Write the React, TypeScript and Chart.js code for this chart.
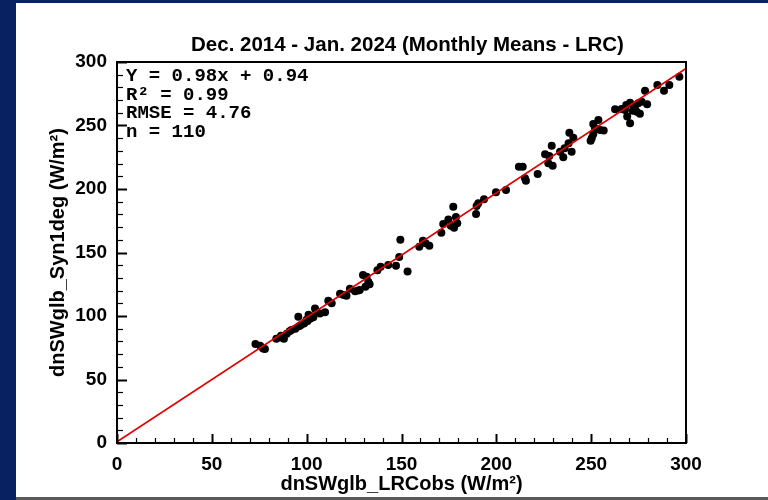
import React, { useEffect, useRef } from "react";
import { Chart, registerables } from "chart.js";

Chart.register(...registerables);

// Observed (x) and Syn1deg (y) monthly means, W/m^2
const obsX = [
  73, 75.5, 77, 78, 84, 86, 86.5, 88, 89.5, 91,
  92, 94, 95.6, 96, 97, 98.6, 99.5, 100, 100.5, 101,
  102, 103.5, 104.4, 105, 107, 109.7, 111.4, 113.2, 117.6, 119.5,
  121, 122.8, 125.5, 127.2, 128, 129.7, 131.6, 131, 133.2, 132.5,
  137.3, 139, 143, 147.1, 148.8, 149.4, 153.2, 159.4, 161.3, 162.7,
  164.7, 171, 172, 174.7, 176, 177.3, 177.7, 178.7, 179.4, 189.3,
  189.6, 190.5, 193.5, 199.8, 205.1, 211.9, 213.9, 215.1, 215.6, 221.8,
  225.7, 227.9, 227.4, 229.7, 229.2, 233.6, 235.3, 236, 238.1, 238.5,
  239.7, 240.6, 249.7, 250.3, 251.1, 251.1, 252, 253.8, 254.7, 256.6,
  262.6, 266, 267.8, 268.5, 269, 270.5, 270.5, 271.9, 272.6, 273.1,
  274, 274.8, 275.7, 276.6, 278.4, 279.5, 284.9, 288.4, 291.2, 296.5,
];
const synY = [
  78, 76.5, 74.5, 74, 82, 83, 84.5, 82, 86, 88,
  89, 90, 99.5, 92, 93, 94, 95.5, 97, 96, 101,
  98, 99, 106, 104, 102, 103, 112, 110, 117.5, 116.5,
  116, 121.5, 119.5, 120, 120.5, 132.3, 131, 123, 125, 127,
  136, 138.8, 140.2, 139.5, 146.5, 160, 135, 154.6, 159.3, 157.2,
  155.4, 165.6, 172.4, 176, 171, 186, 169.5, 178, 173, 180.3,
  186.6, 188.7, 192, 197.4, 199.2, 217.6, 217.6, 208.4, 206.5, 211.8,
  227.3, 226, 220.2, 218.4, 234, 229.4, 225, 232, 236, 244.3,
  229.4, 240.4, 238, 240, 243.1, 251.2, 248, 254.3, 246.5, 246,
  262.8, 263, 262.2, 266.1, 257, 251.7, 267.9, 261.7, 264.3, 265,
  260.9, 267.5, 259.3, 268.7, 277.4, 266.8, 281.9, 277.4, 281.9, 288.4,
];

// Regression line end points (Y = 0.98x + 0.94)
const fitX = [0, 300];
const fitY = [0.94, 294.94];

const axisMin = 0;
const axisMax = 300;
const majorStep = 50;
const minorStep = 10;

const titleText = "Dec. 2014 - Jan. 2024 (Monthly Means - LRC)";
const xTitle = "dnSWglb_LRCobs (W/m\u00B2)";
const yTitle = "dnSWglb_Syn1deg (W/m\u00B2)";
const statsLines = ["Y = 0.98x + 0.94", "R\u00B2 = 0.99", "RMSE = 4.76", "n = 110"];

const SANS = "'Liberation Sans', Arial, Helvetica, sans-serif";
const MONO = "'Liberation Mono', 'Courier New', monospace";

const decorPlugin = {
  id: "decor",
  afterDatasetsDraw(chart: any) {
    const { ctx, chartArea: a, scales } = chart;
    const xs = scales.x;
    const ys = scales.y;
    ctx.save();
    ctx.strokeStyle = "#000";
    // inward ticks
    for (let v = axisMin; v <= axisMax; v += minorStep) {
      const major = v % majorStep === 0;
      ctx.lineWidth = major ? 2 : 1.2;
      const len = major ? 10 : 6;
      const px = Math.round(xs.getPixelForValue(v)) + 0.5;
      ctx.beginPath();
      ctx.moveTo(px, a.bottom);
      ctx.lineTo(px, a.bottom - (major ? 9 : 5));
      ctx.stroke();
      const py = Math.round(ys.getPixelForValue(v)) + 0.5;
      ctx.beginPath();
      ctx.moveTo(a.left, py);
      ctx.lineTo(a.left + len, py);
      ctx.stroke();
    }
    // frame
    ctx.lineWidth = 2;
    ctx.strokeRect(a.left, a.top, a.right - a.left, a.bottom - a.top);
    // title
    ctx.fillStyle = "#000";
    ctx.font = `bold 20.5px ${SANS}`;
    ctx.textAlign = "center";
    ctx.textBaseline = "middle";
    ctx.fillText(titleText, (a.left + a.right) / 2 + 6, a.top - 17);
    // stats text
    ctx.font = `bold 19px ${MONO}`;
    ctx.textAlign = "left";
    ctx.textBaseline = "alphabetic";
    statsLines.forEach((t, i) => {
      ctx.fillText(t, a.left + 9, a.top + 19 + i * 18.5);
    });
    ctx.restore();
  },
};

export default function App() {
  const ref = useRef<HTMLCanvasElement | null>(null);

  useEffect(() => {
    if (!ref.current) return;
    const chart = new Chart(ref.current, {
      type: "scatter",
      data: {
        datasets: [
          {
            type: "line",
            label: "fit",
            data: fitX.map((x, i) => ({ x, y: fitY[i] })),
            borderColor: "#e00000",
            borderWidth: 1.6,
            pointRadius: 0,
            fill: false,
            order: 0,
          } as any,
          {
            label: "monthly",
            data: obsX.map((x, i) => ({ x, y: synY[i] })),
            backgroundColor: "#000",
            borderColor: "#000",
            borderWidth: 0,
            pointRadius: 4,
            order: 1,
          },
        ],
      },
      options: {
        responsive: false,
        animation: false,
        devicePixelRatio: 1,
        layout: { padding: { left: 42, right: 82, top: 62, bottom: 0 } },
        plugins: {
          legend: { display: false },
          tooltip: { enabled: false },
          title: { display: false },
        },
        scales: {
          x: {
            type: "linear",
            min: axisMin,
            max: axisMax,
            grid: { display: false },
            border: { display: false },
            ticks: {
              stepSize: majorStep,
              color: "#000",
              padding: 2,
              font: { family: SANS, weight: "bold", size: 19 },
            },
            title: {
              display: true,
              text: xTitle,
              color: "#000",
              font: { family: SANS, weight: "bold", size: 20 },
              padding: { top: 4, bottom: 4 },
            },
            afterFit: (s: any) => {
              s.height = 57;
            },
          },
          y: {
            type: "linear",
            min: axisMin,
            max: axisMax,
            grid: { display: false },
            border: { display: false },
            ticks: {
              stepSize: majorStep,
              color: "#000",
              padding: 2,
              font: { family: SANS, weight: "bold", size: 19 },
            },
            title: {
              display: true,
              text: yTitle,
              color: "#000",
              font: { family: SANS, weight: "bold", size: 20 },
              padding: { top: 4, bottom: 4 },
            },
            afterFit: (s: any) => {
              s.width = 75;
            },
          },
        },
      },
      plugins: [decorPlugin],
    });
    return () => chart.destroy();
  }, []);

  return (
    <div
      style={{
        position: "fixed",
        left: 0,
        top: 0,
        width: 768,
        height: 500,
        background: "#082160",
        overflow: "hidden",
      }}
    >
      <div style={{ position: "absolute", left: 16, top: 3, width: 752, height: 494, background: "#fff" }} />
      <div style={{ position: "absolute", left: 16, top: 497, width: 752, height: 3, background: "#5a5a5a" }} />
      <canvas
        ref={ref}
        width={768}
        height={500}
        style={{ position: "absolute", left: 0, top: 0, width: 768, height: 500, display: "block" }}
      />
    </div>
  );
}
